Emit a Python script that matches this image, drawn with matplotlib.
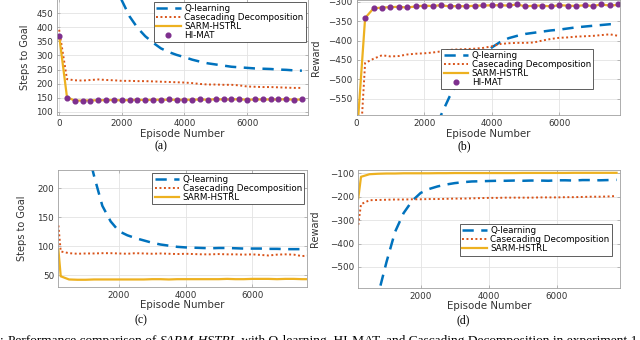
import numpy as np
import matplotlib
matplotlib.use("Agg")
import matplotlib.pyplot as plt

plt.rcParams['font.family'] = ['DejaVu Sans']

# episode axis for experiment panels (a), (b)
episodes = [0, 250, 500, 750, 1000, 1250, 1500, 1750, 2000, 2250, 2500, 2750,
            3000, 3250, 3500, 3750, 4000, 4250, 4500, 4750, 5000, 5250, 5500,
            5750, 6000, 6250, 6500, 6750, 7000, 7250, 7500, 7750]
# panels (c), (d) start a bit later
episodes_c = [180] + episodes[1:]
episodes_d = [170] + episodes[1:]

# (a) steps to goal
q_a = [1900, 1600, 1350, 1150, 950, 800, 680, 580, 495, 438, 398, 368, 345, 325, 312, 302,
       294, 285, 278, 272, 268, 264, 260, 258, 256, 254, 253, 252, 250, 249, 247, 246]
cd_a = [391, 216, 212, 211, 213, 215, 213, 212, 210, 210, 209, 209, 208, 207, 206, 205,
        204, 202, 199, 197, 197, 196, 196, 194, 190, 189, 188, 188, 187, 186, 185, 185]
sarm_a = [370, 152, 140, 140, 141, 141, 142, 142, 141, 142, 143, 142, 143, 143, 143, 143,
          143, 143, 144, 143, 145, 144, 144, 145, 143, 144, 144, 144, 144, 145, 143, 144]
himat_a = [368, 151, 139, 139, 140, 141, 142, 141, 141, 142, 142, 142, 143, 143, 144, 143,
           143, 143, 144, 143, 145, 144, 144, 145, 143, 144, 144, 145, 144, 145, 143, 144]

# (b) reward
q_b = [-1600, -1450, -1300, -1170, -1050, -950, -860, -780, -705, -645, -592, -545, -507, -478, -455, -436,
       -418, -404, -394, -388, -383, -380, -377, -374, -372, -369, -366, -364, -362, -360, -358, -358]
cd_b = [-830, -458, -447, -438, -441, -440, -436, -434, -433, -431, -428, -424, -423, -422, -421, -419,
        -415, -409, -407, -406, -406, -405, -400, -396, -393, -392, -390, -389, -388, -386, -384, -388]
sarm_b = [-655, -342, -317, -315, -314, -313, -315, -312, -310, -311, -309, -312, -311, -312, -310, -310,
          -309, -309, -310, -307, -312, -310, -310, -312, -309, -310, -311, -309, -311, -307, -310, -308]
himat_b = [-655, -342, -316, -315, -314, -313, -314, -312, -310, -311, -309, -311, -311, -311, -310, -309,
           -309, -309, -309, -307, -311, -310, -310, -312, -308, -310, -310, -309, -310, -307, -309, -307]

# (c) steps to goal
q_c = [700, 650, 480, 360, 280, 222, 170, 143, 126, 119, 114, 110, 106, 103, 101, 99,
       98, 97.5, 97, 96.5, 97, 97, 96.5, 96, 96, 96, 95.5, 95.5, 95, 95, 95, 95]
cd_c = [136, 91, 88, 87, 87.5, 87.5, 88, 88, 87.5, 87, 88, 87.5, 87, 87.5, 87, 86.5,
        87, 86.5, 86, 86, 86.5, 86, 86, 85.5, 86, 85, 84, 85.5, 86, 85.5, 83, 84]
sarm_c = [94, 48, 42.5, 42, 42, 42.5, 42.5, 42.5, 42.5, 42.5, 42.5, 42.5, 43, 43, 42.5, 43,
          43, 43, 43, 43, 43, 43.5, 43, 43, 43.5, 43.5, 43.5, 43, 43.5, 43.5, 43, 43]

# (d) reward
q_d = [-1400, -1250, -850, -620, -478, -350, -270, -218, -184, -167, -156, -148, -142, -138, -135, -134,
       -133, -132, -132, -131, -132, -131, -131, -132, -130, -130, -131, -129, -129, -130, -129, -128]
cd_d = [-320, -232, -215, -214, -213, -212, -212, -211, -211, -210, -210, -209, -208, -208, -207, -206,
        -205, -205, -204, -204, -204, -204, -203, -203, -203, -202, -202, -201, -200, -200, -199, -197]
sarm_d = [-207, -115, -104, -102, -101, -101, -100, -100, -100, -100, -99.5, -99.5, -99, -99, -99, -99,
          -99, -99, -99, -99, -98.5, -98.5, -98.5, -98.5, -98.5, -98.5, -98, -98, -98, -98, -98, -98]

labels = ["Q-learning", "Casecading Decomposition", "SARM-HSTRL", "HI-MAT"]
c_q, c_cd, c_sarm, c_hi = "#0072BD", "#D95319", "#EDB120", "#7E2F8E"

fig = plt.figure(figsize=(6.4, 3.4), dpi=100)


def style(ax, xlim, ylim, xticks, yticks):
    ax.set_xlim(*xlim)
    ax.set_ylim(*ylim)
    ax.set_xticks(xticks)
    ax.set_yticks(yticks)
    ax.grid(True, color="#e3e3e3", lw=0.6)
    ax.set_axisbelow(True)
    for s in ax.spines.values():
        s.set_color("#a0a0a0")
        s.set_linewidth(0.6)
    ax.tick_params(direction="in", length=2.5, width=0.5, color="#a0a0a0",
                   labelsize=6.3, labelcolor="#333333", pad=3, top=True, right=True)


def plot_lines(ax, x, q, cd, sarm, himat=None):
    ax.plot(x, q, color=c_q, lw=1.8, ls=(0, (4.5, 3)), label=labels[0])
    ax.plot(x, cd, color=c_cd, lw=1.4, ls=(0, (1, 1.3)), label=labels[1])
    ax.plot(x, sarm, color=c_sarm, lw=1.6, label=labels[2])
    if himat is not None:
        ax.plot(x, himat, ls="none", marker="o", ms=3.4, color=c_hi, label=labels[3])


def legend(ax, **kw):
    lg = ax.legend(fontsize=6.3, labelspacing=0.0, handlelength=2.8, handletextpad=0.4,
                   borderpad=0.25, fancybox=False, framealpha=1, **kw)
    lg.get_frame().set_edgecolor("#444444")
    lg.get_frame().set_linewidth(0.6)


def labels_xy(ax, ylabel, ylx, xly):
    ax.set_xlabel("Episode Number", fontsize=7.4, color="#333333")
    ax.set_ylabel(ylabel, fontsize=7, color="#333333",
                  family=["Liberation Sans Narrow", "DejaVu Sans"])
    ax.yaxis.set_label_coords(ylx, 0.5)
    ax.xaxis.set_label_coords(0.5, xly)


# (a)
ax_a = fig.add_axes([0.0895, 0.6626, 0.392, 0.3403])
plot_lines(ax_a, episodes, q_a, cd_a, sarm_a, himat_a)
style(ax_a, (-60, 7950), (90, 500), [0, 2000, 4000, 6000], range(100, 451, 50))
legend(ax_a, loc="upper right", borderaxespad=0.3)
labels_xy(ax_a, "Steps to Goal", -0.11, -0.125)

# (b)
ax_b = fig.add_axes([0.5573, 0.6618, 0.4114, 0.3388])
plot_lines(ax_b, episodes, q_b, cd_b, sarm_b, himat_b)
style(ax_b, (0, 7800), (-592, -295), [0, 2000, 4000, 6000], range(-550, -299, 50))
legend(ax_b, loc="lower right", bbox_to_anchor=(0.898, 0.223), borderaxespad=0)
labels_xy(ax_b, "Reward", -0.136, -0.124)

# (c)
ax_c = fig.add_axes([0.0911, 0.1568, 0.3881, 0.3432])
plot_lines(ax_c, episodes_c, q_c, cd_c, sarm_c)
style(ax_c, (177, 7640), (30, 232), [2000, 4000, 6000], range(50, 201, 50))
legend(ax_c, loc="upper right", borderaxespad=0.3)
labels_xy(ax_c, "Steps to Goal", -0.127, -0.11)

# (d)
ax_d = fig.add_axes([0.5598, 0.1521, 0.4089, 0.3479])
plot_lines(ax_d, episodes_d, q_d, cd_d, sarm_d)
style(ax_d, (170, 7850), (-591, -86), [2000, 4000, 6000], range(-500, -99, 100))
legend(ax_d, loc="lower right", bbox_to_anchor=(0.968, 0.276), borderaxespad=0)
labels_xy(ax_d, "Reward", -0.146, -0.105)

# sub-captions
serif = ["Liberation Serif", "DejaVu Serif"]
for txt, (px, py) in zip(["(a)", "(b)", "(c)", "(d)"],
                         [(160.7, 146.7), (464.3, 146.7), (140.7, 320), (463.3, 320)]):
    fig.text(px / 640, 1 - py / 340, txt, ha="center", va="center", fontsize=8.5, family=serif)

# caption (only its top is visible in the crop)
base = -4.3 / 340
fig.text(7 / 640, base, "Figure 2: ", ha="right", va="baseline", fontsize=9.6, family=serif)
t2 = fig.text(8 / 640, base, "Performance comparison of ", ha="left", va="baseline",
              fontsize=9.6, family=serif)
t3 = ax_d.annotate("SARM-HSTRL", xy=(1, base), xycoords=(t2, "figure fraction"),
                   ha="left", va="baseline", fontsize=9.6, family=serif, style="italic",
                   annotation_clip=False)
ax_d.annotate(" with Q-learning, HI-MAT, and Cascading Decomposition in experiment 1 (a) and 2 (b).",
              xy=(1, base), xycoords=(t3, "figure fraction"), ha="left", va="baseline",
              fontsize=9.6, family=serif, annotation_clip=False)

fig.savefig("out.png", dpi=100)
